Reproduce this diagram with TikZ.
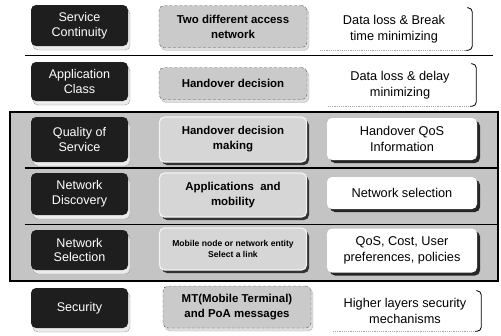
\documentclass[tikz,border=0pt]{standalone}
\usepackage{fontspec}
\setmainfont{Liberation Sans}
\usetikzlibrary{shadows}
\definecolor{darkfill}{HTML}{1E1E1E}
\definecolor{midgray}{HTML}{CACACA}
\definecolor{bandgray}{HTML}{C4C4C4}
\definecolor{lightmid}{HTML}{D6D6D6}
\tikzset{
  darkbox/.style={rounded corners=5bp, fill=darkfill, text=white, align=center,
    font=\fontsize{12.6}{15}\selectfont, minimum width=97bp, inner sep=0pt,
    general shadow={fill=gray!15, draw=gray!80, shadow xshift=2bp, shadow yshift=-4bp}},
  midbox/.style={rounded corners=5bp, fill=midgray, draw=gray!70!black, densely dashed,
    align=center, font=\fontsize{11.5}{15}\selectfont\bfseries, minimum width=148bp, inner sep=0pt,
    general shadow={fill=gray!25, draw=gray!60, solid, shadow xshift=2bp, shadow yshift=-3bp}},
  bandmid/.style={rounded corners=5bp, fill=lightmid, draw=white!90!gray, line width=1.2pt,
    align=center, font=\fontsize{11.5}{15}\selectfont\bfseries, minimum width=147bp, inner sep=0pt,
    general shadow={fill=gray!40!black, shadow xshift=2.5bp, shadow yshift=-3bp}},
  rightbox/.style={rounded corners=5bp, fill=white, align=center,
    font=\fontsize{12.8}{15.5}\selectfont, minimum width=150bp, inner sep=0pt,
    general shadow={fill=gray!30!black, shadow xshift=3bp, shadow yshift=-3bp}},
  righttext/.style={align=center, font=\fontsize{12.8}{15.5}\selectfont, inner sep=0pt},
  brk/.style={line width=0.8pt, rounded corners=4bp},
  shline/.style={gray!70, densely dotted, line width=1.2pt},
  sep/.style={line width=1.2pt, black}
}
\begin{document}
\begin{tikzpicture}[x=1bp,y=-1bp]
\useasboundingbox (0,0) rectangle (501,335);
% shaded band
\path[fill=bandgray, draw=black, line width=1.2pt] (10,112) rectangle (498,281);
\draw[sep] (25,55.5) -- (493,55.5);
\draw[sep] (25,168) -- (498,168);
\draw[sep] (25,224.5) -- (498,224.5);

% left dark boxes
\node[darkbox, minimum height=41bp] (d1) at (79.5,25.5) {Service\\Continuity};
\node[darkbox, minimum height=39bp] (d2) at (79.5,81.5) {Application\\Class};
\node[darkbox, minimum height=45bp] (d3) at (79.5,139.5) {Quality of\\Service};
\node[darkbox, minimum height=42bp] (d4) at (79.5,194) {Network\\Discovery};
\node[darkbox, minimum height=40bp] (d5) at (79.5,250) {Network\\Selection};
\node[darkbox, minimum height=40bp] (d6) at (79.5,308) {Security};

% middle boxes
\node[midbox, minimum height=42bp] (m1) at (233,26.5) {Two different access\\network};
\node[midbox, minimum height=32bp] (m2) at (233,83.5) {Handover decision};
\node[bandmid, minimum height=45bp] (m3) at (233,139.5) {Handover decision\\making};
\node[bandmid, minimum height=44bp] (m4) at (233,195) {Applications\ \ and\\mobility};
\node[bandmid, minimum height=42bp, font=\fontsize{8.6}{11}\selectfont\bfseries] (m5) at (233,249) {Mobile node or network entity\\Select a link};
\node[midbox, minimum height=42bp] (m6) at (237,307) {MT(Mobile Terminal)\\and PoA messages};

% right column
\node[righttext, minimum width=156bp, minimum height=42bp] (r1) at (394,29) {Data loss \& Break\\time minimizing};
\node[righttext, minimum width=152bp, minimum height=42bp] (r2) at (400,85) {Data loss \& delay\\minimizing};
\node[rightbox, minimum height=42bp] (r3) at (402,139) {Handover QoS\\Information};
\node[rightbox, minimum height=32bp] (r4) at (402,193) {Network selection};
\node[rightbox, minimum height=44bp] (r5) at (402,250.5) {QoS, Cost, User\\preferences, policies};
\node[righttext, minimum width=152bp, minimum height=40bp] (r6) at (405,311) {Higher layers security\\mechanisms};

% brackets and bottom shadows of the open right boxes
\foreach \n in {r1,r2,r6}{
  \draw[shline] ([xshift=4bp]\n.south west) -- ([xshift=-5bp]\n.south east);
  \draw[brk] ([xshift=-5bp]\n.north east) -- (\n.north east) -- (\n.south east) -- ([xshift=-6bp]\n.south east);
}
\end{tikzpicture}
\end{document}
